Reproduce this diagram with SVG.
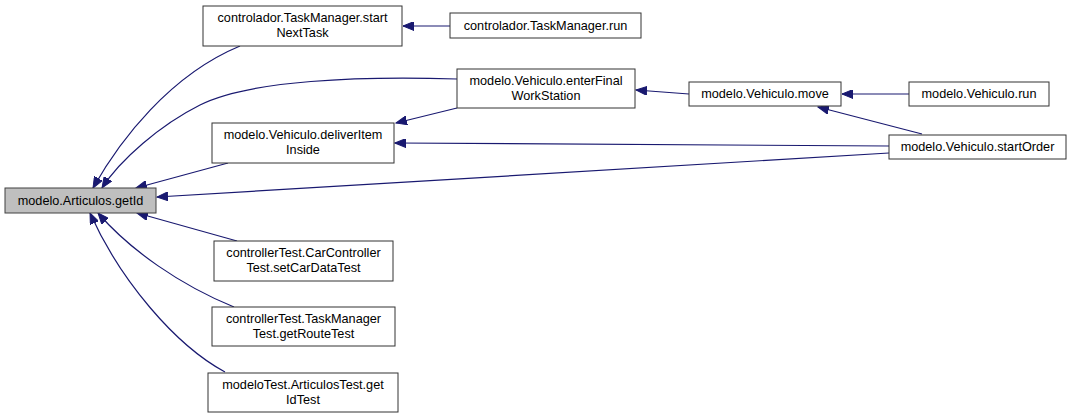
<svg xmlns="http://www.w3.org/2000/svg" width="1075" height="417" viewBox="0 0 1075 417">
<defs>
<marker id="ah" markerUnits="userSpaceOnUse" markerWidth="12" markerHeight="9" refX="11" refY="4.5" orient="auto">
<path d="M0,0 L11,4.5 L0,9 z" fill="#191970" stroke="#191970" stroke-width="1"/>
</marker>
<style>
.n rect{fill:#fff;stroke:#333;stroke-width:1}
.n text{font-family:"Liberation Sans",Arial,sans-serif;font-size:12.7px;fill:#000;text-anchor:middle}
#e path{fill:none;stroke:#191970;stroke-width:1.2;marker-end:url(#ah)}
</style>
</defs>
<rect width="1075" height="417" fill="#fff"/>
<g id="e">
<path d="M450,26 L403,26"/>
<path d="M240,46 C170,75 120,140 93,188"/>
<path d="M457,79 C360,76 250,80 200,105 C160,125 120,160 102,188"/>
<path d="M228,163 L136,188"/>
<path d="M889,153 L157,197"/>
<path d="M237,241 L137,213"/>
<path d="M234,307 C180,285 130,250 98,213"/>
<path d="M225,372 C175,345 120,280 90,213"/>
<path d="M457,108 L396,123"/>
<path d="M889,146 L395,143"/>
<path d="M689,94 L636,90"/>
<path d="M909,94 L842,94"/>
<path d="M922,134 L818,107"/>
</g>
<g id="getId" class="n"><rect x="5" y="188" width="151" height="25" style="fill:#bfbfbf;stroke:#404040"/><text x="80.5" y="205">modelo.Articulos.getId</text></g>
<g id="startNextTask" class="n"><rect x="203" y="6" width="199" height="40"/><text x="302.5" y="22">controlador.TaskManager.start</text><text x="302.5" y="37">NextTask</text></g>
<g id="tmRun" class="n"><rect x="450" y="13" width="191" height="25"/><text x="545.5" y="30">controlador.TaskManager.run</text></g>
<g id="enterFinal" class="n"><rect x="457" y="69" width="178" height="39"/><text x="546" y="85">modelo.Vehiculo.enterFinal</text><text x="546" y="100">WorkStation</text></g>
<g id="deliverItem" class="n"><rect x="212" y="123" width="182" height="40"/><text x="303" y="139">modelo.Vehiculo.deliverItem</text><text x="303" y="154">Inside</text></g>
<g id="move" class="n"><rect x="689" y="82" width="152" height="24"/><text x="765" y="98">modelo.Vehiculo.move</text></g>
<g id="vRun" class="n"><rect x="909" y="82" width="140" height="24"/><text x="979" y="98">modelo.Vehiculo.run</text></g>
<g id="startOrder" class="n"><rect x="889" y="135" width="177" height="24"/><text x="977.5" y="151">modelo.Vehiculo.startOrder</text></g>
<g id="carTest" class="n"><rect x="214" y="241" width="179" height="40"/><text x="303.5" y="257">controllerTest.CarController</text><text x="303.5" y="272">Test.setCarDataTest</text></g>
<g id="tmTest" class="n"><rect x="212" y="307" width="183" height="39"/><text x="303.5" y="323">controllerTest.TaskManager</text><text x="303.5" y="338">Test.getRouteTest</text></g>
<g id="artTest" class="n"><rect x="208" y="373" width="190" height="39"/><text x="303" y="389">modeloTest.ArticulosTest.get</text><text x="303" y="404">IdTest</text></g>
</svg>
